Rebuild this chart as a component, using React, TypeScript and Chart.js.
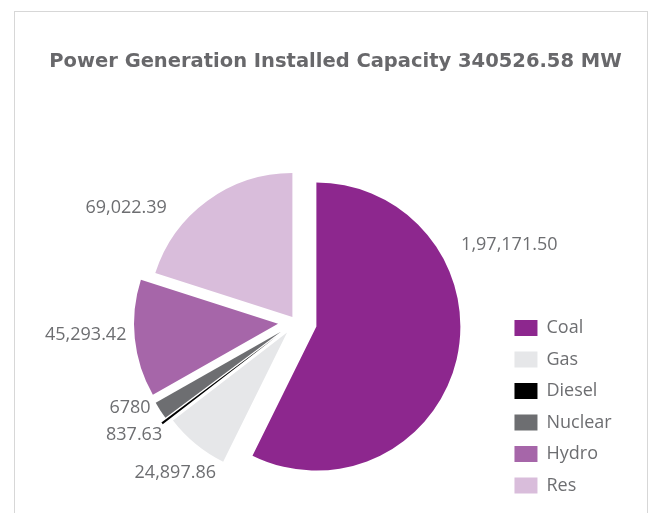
import React, { useEffect, useRef } from 'react';
import { Chart, registerables, ArcElement, PieController } from 'chart.js';

Chart.register(...registerables);

// ---- data ----
const categories = ['Coal', 'Gas', 'Diesel', 'Nuclear', 'Hydro', 'Res'];
const capacityMW = [197171.5, 24897.86, 837.63, 6780, 45293.42, 69022.39];
const valueLabels = ['1,97,171.50', '24,897.86', '837.63', '6780', '45,293.42', '69,022.39'];
const sliceColors = ['#8d278e', '#e6e7e9', '#000000', '#6d6e71', '#a666a9', '#d9bddb'];
const titleText = 'Power Generation Installed Capacity 340526.58 MW';

// ---- styling (per-slice pull-out and label placement) ----
const sliceShift = [21, 14, 24, 18, 18, 6];
const labelAngleShift = [-38, -11.5, -3, 2.5, 1.5, -12.5];
const labelGap = [38, 27, 31, 25, 26, 28];

const TEXT_GRAY = '#6d6e71';
const FONT = '"Open Sans", "Noto Sans", sans-serif';
const TITLE_FONT = '"DejaVu Sans", "Open Sans", sans-serif';

class SlicedArc extends ArcElement {
  static id = 'slicedArc';
  draw(ctx: CanvasRenderingContext2D) {
    const c: any = (this as any).$context;
    const shifts = c && c.dataset && c.dataset.shift;
    const s = shifts ? shifts[c.dataIndex] || 0 : 0;
    const mid = ((this as any).startAngle + (this as any).endAngle) / 2;
    ctx.save();
    ctx.translate(Math.cos(mid) * s, Math.sin(mid) * s);
    super.draw(ctx);
    ctx.restore();
  }
}

class SlicedPie extends PieController {
  static id = 'slicedPie';
  static defaults = { dataElementType: 'slicedArc' };
}

Chart.register(SlicedArc as any, SlicedPie as any);

const valueLabelPlugin = {
  id: 'valueLabels',
  afterDatasetsDraw(chart: any) {
    const meta = chart.getDatasetMeta(0);
    const ctx = chart.ctx;
    ctx.save();
    ctx.font = `18px ${FONT}`;
    ctx.fillStyle = TEXT_GRAY;
    ctx.textBaseline = 'middle';
    meta.data.forEach((arc: any, i: number) => {
      const { x, y, startAngle, endAngle, outerRadius } = arc.getProps(
        ['x', 'y', 'startAngle', 'endAngle', 'outerRadius'],
        true
      );
      const a = (startAngle + endAngle) / 2 + (labelAngleShift[i] * Math.PI) / 180;
      const r = outerRadius + labelGap[i];
      const px = x + Math.cos(a) * r;
      const py = y + Math.sin(a) * r;
      ctx.textAlign = Math.cos(a) >= 0 ? 'left' : 'right';
      ctx.fillText(valueLabels[i], px, py);
    });
    ctx.restore();
  },
};

export default function App() {
  const ref = useRef<HTMLCanvasElement>(null);

  useEffect(() => {
    if (!ref.current) return;
    const chart = new Chart(ref.current, {
      type: 'slicedPie' as any,
      data: {
        labels: categories,
        datasets: [
          {
            data: capacityMW,
            backgroundColor: sliceColors,
            borderWidth: 0,
            shift: sliceShift,
          } as any,
        ],
      },
      options: {
        responsive: false,
        animation: false,
        radius: 144,
        layout: { padding: { left: 0, right: 25.3, top: 0, bottom: 5 } },
        plugins: {
          title: {
            display: true,
            text: titleText,
            align: 'end',
            color: '#68686b',
            font: { family: TITLE_FONT, size: 19.5, weight: 'bold' },
            padding: { top: 37.8, bottom: 62.4 },
          },
          // empty left-hand spacer box that keeps the pie off the left edge
          subtitle: {
            display: true,
            text: '',
            position: 'left',
            font: { size: 12 },
            padding: { top: 0, bottom: 61.5 },
          },
          legend: {
            display: true,
            position: 'right',
            align: 'end',
            maxWidth: 121.2,
            labels: {
              boxWidth: 23,
              boxHeight: 16,
              padding: 13.5,
              color: TEXT_GRAY,
              font: { family: FONT, size: 18 },
            },
          },
          tooltip: { enabled: false },
        },
      } as any,
      plugins: [valueLabelPlugin],
    });
    return () => chart.destroy();
  }, []);

  return (
    <div
      style={{
        position: 'absolute',
        left: 14,
        top: 11,
        width: 634,
        height: 502,
        boxSizing: 'border-box',
        border: '1px solid #d7d7d7',
        borderBottom: 'none',
        background: '#fff',
      }}
    >
      <canvas
        ref={ref}
        width={632}
        height={501}
        style={{ display: 'block', width: 632, height: 501 }}
      />
    </div>
  );
}
